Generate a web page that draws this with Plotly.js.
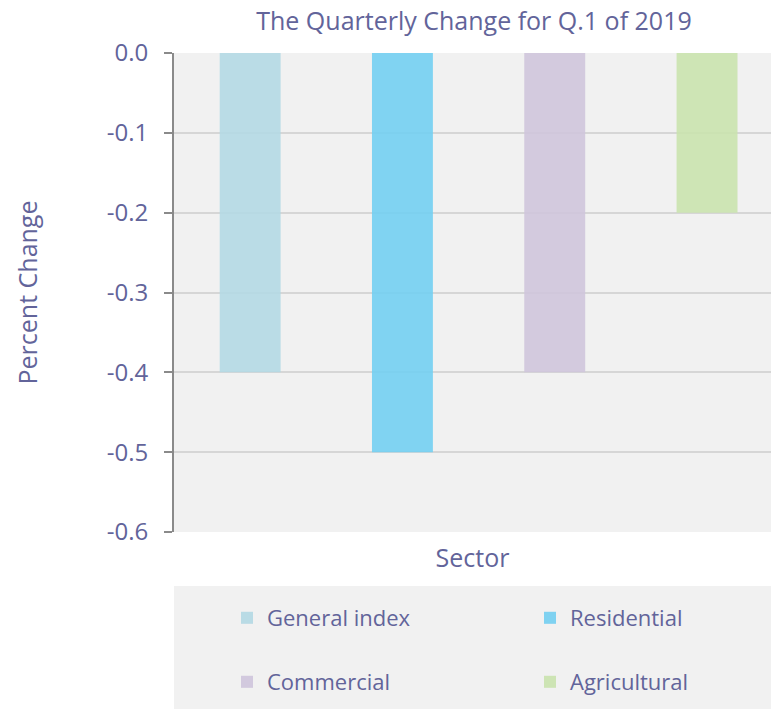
<!DOCTYPE html>
<html>
<head>
<meta charset="utf-8">
<script src="https://cdn.plot.ly/plotly-3.0.1.min.js"></script>
<style>html,body{margin:0;padding:0;background:#fff;overflow:hidden}</style>
</head>
<body>
<div id="chart" style="width:771px;height:709px"></div>
<script>
const sectors = ["General index", "Residential", "Commercial", "Agricultural"];
const changes = [-0.4, -0.5, -0.4, -0.2];
const colors = ["#b4d9e4", "#73cff2", "#cfc5dc", "#cae3ae"];
const legendIds = ["legend", "legend2", "legend3", "legend4"];
const yTicks = [0, -0.1, -0.2, -0.3, -0.4, -0.5, -0.6];

const textColor = "#62649a";
const fontFam = "'Open Sans', sans-serif";
const W = 771, H = 709;

const traces = sectors.map((s, i) => ({
  type: "bar",
  name: s,
  x: [s],
  y: [changes[i]],
  marker: {color: colors[i]},
  opacity: 0.9,
  legend: legendIds[i],
  showlegend: true,
  hoverinfo: "name+y"
}));

// legend slot positions (container pixels): two columns, two rows
const legendPos = [[227, 618], [530, 618], [227, 682], [530, 682]];
function legendCfg(p) {
  return {
    orientation: "h",
    bgcolor: "rgba(0,0,0,0)",
    font: {family: fontFam, size: 22, color: textColor},
    xref: "container", yref: "container",
    xanchor: "left", yanchor: "middle",
    x: p[0] / W, y: (H - p[1]) / H
  };
}

const layout = {
  width: W, height: H,
  showlegend: true,
  margin: {l: 174, r: 0, t: 53, b: 177},
  paper_bgcolor: "#ffffff",
  plot_bgcolor: "#f1f1f1",
  barmode: "overlay",
  bargap: 0.6,
  font: {family: fontFam, color: textColor},
  title: {
    text: "The Quarterly Change for Q.1 of 2019",
    font: {family: fontFam, size: 25, color: textColor},
    x: 0.5025, xref: "paper", xanchor: "center",
    y: 1 - 21 / H, yref: "container", yanchor: "middle"
  },
  xaxis: {
    type: "category",
    range: [-0.5, 3.42],
    showticklabels: false,
    ticks: "",
    showgrid: false,
    zeroline: false,
    showline: false,
    title: {text: "Sector", font: {family: fontFam, size: 25, color: textColor}, standoff: 17}
  },
  yaxis: {
    range: [-0.6, 0],
    tickvals: yTicks,
    ticktext: yTicks.map(v => v.toFixed(1)),
    tickfont: {family: fontFam, size: 24, color: textColor},
    ticks: "outside", ticklen: 8, tickcolor: "#8a8a8a", tickwidth: 2,
    ticklabelstandoff: 11,
    showline: true, linecolor: "#8a8a8a", linewidth: 2,
    gridcolor: "#d6d6d6", gridwidth: 1.5,
    zeroline: false,
    title: {text: "Percent Change", font: {family: fontFam, size: 25, color: textColor}, standoff: 62}
  },
  legend: legendCfg(legendPos[0]),
  legend2: legendCfg(legendPos[1]),
  legend3: legendCfg(legendPos[2]),
  legend4: legendCfg(legendPos[3]),
  shapes: [{
    type: "rect", xref: "paper", yref: "paper", layer: "below",
    x0: 0, x1: 1.02, y0: (532 - 586) / 479, y1: (532 - 712) / 479,
    fillcolor: "#f1f1f1", line: {width: 0}
  }]
};

Plotly.newPlot("chart", traces, layout, {displayModeBar: false, responsive: false});
</script>
</body>
</html>
